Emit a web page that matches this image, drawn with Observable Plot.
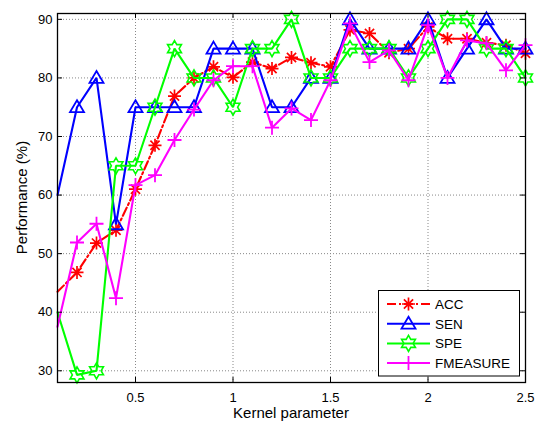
<!DOCTYPE html>
<html><head><meta charset="utf-8">
<script src="https://cdn.jsdelivr.net/npm/d3@7"></script>
<script src="https://cdn.jsdelivr.net/npm/@observablehq/plot@0.6"></script>
<style>
body{margin:0;background:#fff;}
#chart{position:relative;width:539px;height:423px;}
</style>
</head><body><div id="chart"></div>
<script>
// ---- data ----
const kernel = [0.1,0.2,0.3,0.4,0.5,0.6,0.7,0.8,0.9,1.0,1.1,1.2,1.3,1.4,1.5,1.6,1.7,1.8,1.9,2.0,2.1,2.2,2.3,2.4,2.5];
const acc      = [43.5,46.8,51.8,54.0,61.0,68.5,76.9,80.0,81.9,80.1,82.7,81.6,83.5,82.6,81.9,88.2,87.6,84.3,85.0,88.7,86.7,86.7,86.0,85.6,84.2];
const sen      = [60,75,80,55,75,75,75,75,85,85,85,75,75,80,80,90,85,85,85,90,80,85,90,85,85];
const spe      = [40,29.3,30,65,65,75,85,80,80,75,85,85,90,80,80,85,85,85,80,85,90,90,85,85,80];
const fmeasure = [37.5,51.9,55.1,42.4,61.7,63.4,69.4,74.6,79.6,82.0,82.0,71.5,74.8,72.8,79.6,89.3,82.7,84.7,79.6,89.0,80.0,86.4,85.9,81.3,85.6];
const seriesNames = ["ACC","SEN","SPE","FMEASURE"];
const xTicks = [0.5,1,1.5,2,2.5];
const yTicks = [30,40,50,60,70,80,90];
const xLabel = "Kernel parameter";
const yLabel = "Performance (%)";

// ---- symbols ----
const rad = s => Math.sqrt(s/Math.PI);
const symTriangle = {draw(c,s){const r=rad(s); c.moveTo(0,-r); c.lineTo(r,0.7*r); c.lineTo(-r,0.7*r); c.closePath();}};
const symHex = {draw(c,s){const R=rad(s), ri=R/Math.sqrt(3); for(let k=0;k<12;k++){const a=-Math.PI/2+k*Math.PI/6; const rr=k%2?ri:R; const x=rr*Math.cos(a), y=rr*Math.sin(a); if(k) c.lineTo(x,y); else c.moveTo(x,y);} c.closePath();}};
const symAst = {draw(c,s){const r=rad(s); for(let k=0;k<4;k++){const a=k*Math.PI/4; c.moveTo(r*Math.cos(a),r*Math.sin(a)); c.lineTo(-r*Math.cos(a),-r*Math.sin(a));}}};
const symPlus = {draw(c,s){const r=rad(s); c.moveTo(-r,0); c.lineTo(r,0); c.moveTo(0,-r); c.lineTo(0,r);}};

const styles = {
  ACC:      {color:"#ff0000", dash:"9,3,2,3", symbol:symAst, r:6.5, sw:1.7},
  SEN:      {color:"#0000ff", dash:null, symbol:symTriangle, r:7, sw:1.8},
  SPE:      {color:"#00ff00", dash:null, symbol:symHex, r:8, sw:1.6},
  FMEASURE: {color:"#ff00ff", dash:null, symbol:symPlus, r:7, sw:1.8}
};
const values = {ACC:acc, SEN:sen, SPE:spe, FMEASURE:fmeasure};
const rows = {};
for (const n of seriesNames) rows[n] = kernel.map((x,i)=>({x, y:values[n][i]}));

const W=539, H=423, mL=57, mR=14, mT=13, mB=41;
const xDomain=[0.1,2.5], yDomain=[28,91];
const tkY = 5*(yDomain[1]-yDomain[0])/(H-mT-mB);
const tkX = 5*(xDomain[1]-xDomain[0])/(W-mL-mR);

const marks = [
  Plot.ruleX(xTicks, {stroke:"#888", strokeWidth:1, strokeDasharray:"1,2"}),
  Plot.ruleY(yTicks, {stroke:"#888", strokeWidth:1, strokeDasharray:"1,2"}),
];
for (const n of seriesNames) {
  const st = styles[n];
  marks.push(Plot.line(rows[n], {x:"x", y:"y", stroke:st.color, strokeWidth:2.1, strokeDasharray:st.dash, strokeLinejoin:"miter"}));
  marks.push(Plot.dot(rows[n].filter(d=>d.x>xDomain[0]+1e-9), {x:"x", y:"y", symbol:st.symbol, r:st.r, fill:"none", stroke:st.color, strokeWidth:st.sw}));
}
marks.push(
  Plot.frame({stroke:"#000", strokeWidth:1.3}),
  Plot.ruleX(xTicks, {y1:yDomain[0], y2:yDomain[0]+tkY, stroke:"#000"}),
  Plot.ruleX(xTicks, {y1:yDomain[1]-tkY, y2:yDomain[1], stroke:"#000"}),
  Plot.ruleY(yTicks, {x1:xDomain[0], x2:xDomain[0]+tkX, stroke:"#000"}),
  Plot.ruleY(yTicks, {x1:xDomain[1]-tkX, x2:xDomain[1], stroke:"#000"}),
  Plot.axisX(xTicks, {tickSize:0, tickPadding:10, label:null, tickFormat:d=>String(d), fontSize:13}),
  Plot.axisY(yTicks, {tickSize:0, tickPadding:5, label:null, tickFormat:d=>String(d), fontSize:13})
);

const chart = Plot.plot({
  width:W, height:H, marginLeft:mL, marginRight:mR, marginTop:mT, marginBottom:mB,
  x:{domain:xDomain}, y:{domain:yDomain},
  style:{fontFamily:"'Liberation Sans', Arial, sans-serif", fontSize:"13px", background:"#fff", color:"#000", overflow:"visible"},
  marks
});
document.getElementById("chart").appendChild(chart);

// ---- axis titles & legend ----
const svg = d3.select(chart);
svg.append("text").attr("x", mL+(W-mL-mR)/2).attr("y", 418)
  .attr("text-anchor","middle").attr("font-size",15).attr("fill","#000").text(xLabel);
svg.append("text").attr("transform", `translate(22,${mT+(H-mT-mB)/2}) rotate(-90)`)
  .attr("text-anchor","middle").attr("dy","0.35em").attr("font-size",15).attr("fill","#000").text(yLabel);

const lg = svg.append("g");
lg.append("rect").attr("x",378.5).attr("y",290.5).attr("width",141).attr("height",85.5)
  .attr("fill","#fff").attr("stroke","#000").attr("stroke-width",1);
seriesNames.forEach((n,i)=>{
  const st = styles[n]; const y = 304 + i*19.7;
  lg.append("line").attr("x1",387).attr("x2",430).attr("y1",y).attr("y2",y)
    .attr("stroke",st.color).attr("stroke-width",2).attr("stroke-dasharray",st.dash);
  lg.append("path").attr("transform",`translate(408.5,${y})`)
    .attr("d", d3.symbol(st.symbol, st.r*st.r*Math.PI)())
    .attr("fill","none").attr("stroke",st.color).attr("stroke-width",st.sw);
  lg.append("text").attr("x",435).attr("y",y).attr("dy","0.36em").attr("text-anchor","start")
    .attr("font-size",13.5).attr("fill","#000").text(n);
});
</script>
</body></html>
